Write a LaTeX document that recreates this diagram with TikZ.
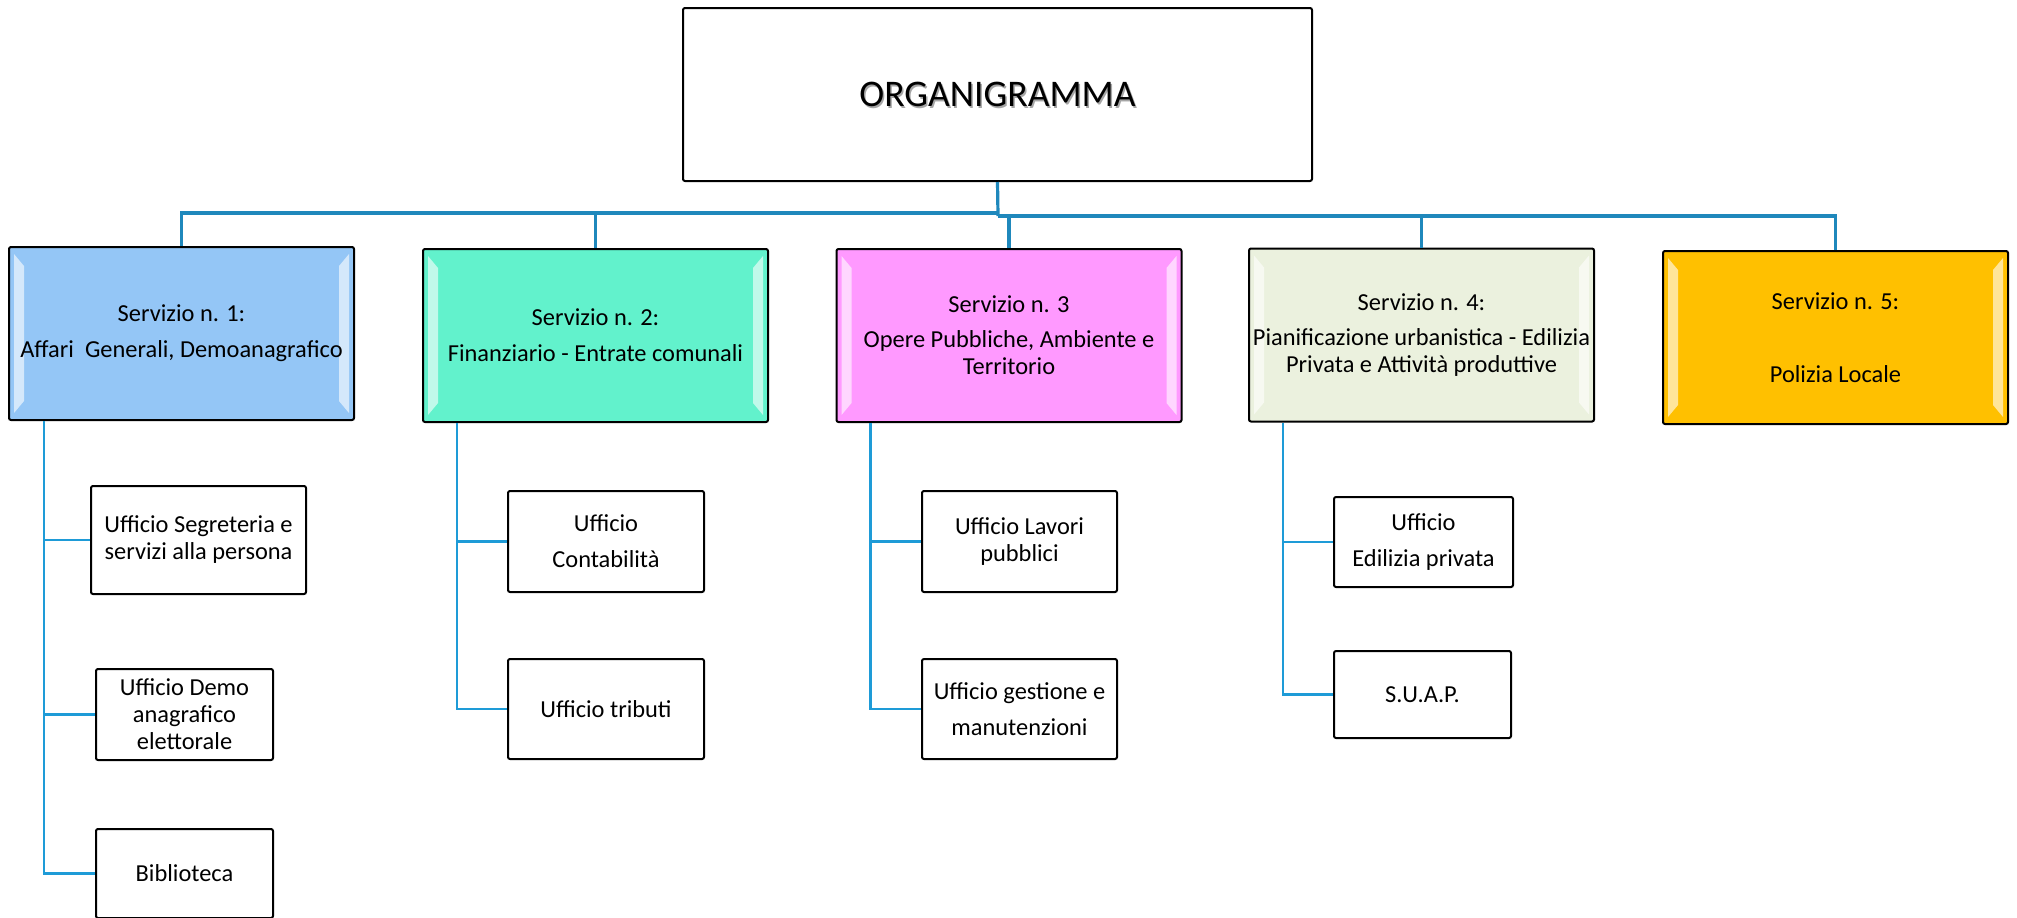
\documentclass[tikz,border=0pt]{standalone}
\usepackage{fontspec}
\setmainfont{Carlito}
\usetikzlibrary{calc}
\definecolor{busblue}{HTML}{1F88BC}
\definecolor{subblue}{HTML}{1E9BD7}
\definecolor{fillA}{HTML}{94C6F6}
\definecolor{fillB}{HTML}{62F2CC}
\definecolor{fillC}{HTML}{FF99FF}
\definecolor{fillD}{HTML}{EBF1DE}
\definecolor{fillE}{HTML}{FFC000}
\newcommand{\bevelsides}[1]{%
  \fill[bevelstrip] ($(#1.north west)+(6,8)$) -- ($(#1.north west)+(16,20)$) -- ($(#1.south west)+(16,-20)$) -- ($(#1.south west)+(6,-8)$) -- cycle;
  \fill[bevelstrip] ($(#1.north east)+(-6,8)$) -- ($(#1.north east)+(-16,20)$) -- ($(#1.south east)+(-16,-20)$) -- ($(#1.south east)+(-6,-8)$) -- cycle;
}
\begin{document}
\begin{tikzpicture}[x=0.5pt,y=-0.5pt,
  svc/.style={draw=black, line width=1pt, rounded corners=1pt, inner sep=0pt,
    minimum width=172.5pt, minimum height=86.5pt},
  svctext/.style={inner sep=0pt, align=center, font=\fontsize{12.2}{13.5}\selectfont},
  office/.style={draw=black, line width=1pt, rounded corners=1pt, inner sep=0pt, align=center,
    fill=white, font=\fontsize{12.2}{13.5}\selectfont},
  bus/.style={draw=busblue, line width=1.6pt},
  sub/.style={draw=subblue, line width=1.2pt},
  bevelstrip/.style={fill=white, fill opacity=0.6},
  title/.style={font=\fontsize{18.8}{20}\selectfont, inner sep=0pt}]
\useasboundingbox (0,0) rectangle (2017,917);

% top box
\node[draw=black, line width=1pt, rounded corners=1pt, inner sep=0pt,
      minimum width=314.5pt, minimum height=86.5pt] (top) at (997.5,94.5) {};
\node[title, text=black!35] (orgshadow) at ($(top.center)+(1.5,1.5)$) {ORGANIGRAMMA};
\node[title] (orgtext) at (top.center) {ORGANIGRAMMA};

% services
\node[svc, fill=fillA] (s1) at (181.5,333.5) {};
\node[svc, fill=fillB] (s2) at (595.5,335.5) {};
\node[svc, fill=fillC] (s3) at (1009,335.5) {};
\node[svc, fill=fillD] (s4) at (1421.5,335) {};
\node[svc, fill=fillE] (s5) at (1835.5,337.5) {};
\bevelsides{s1}
\bevelsides{s2}
\bevelsides{s3}
\bevelsides{s4}
\bevelsides{s5}
\node[svctext] (s1t) at (s1.center) {Servizio n. 1:\\[4.5pt]Affari\ \ Generali, Demoanagrafico};
\node[svctext] (s2t) at (s2.center) {Servizio n. 2:\\[4.5pt]Finanziario - Entrate comunali};
\node[svctext] (s3t) at (s3.center) {Servizio n. 3\\[4pt]Opere Pubbliche, Ambiente e\\Territorio};
\node[svctext] (s4t) at (s4.center) {Servizio n. 4:\\[4pt]Pianificazione urbanistica - Edilizia\\Privata e Attività produttive};
\node[svctext] (s5t) at (s5.center) {Servizio n. 5:\\[23pt]Polizia Locale};

% offices
\node[office, minimum width=107.5pt, minimum height=54pt] (c11) at (198.5,540) {Ufficio Segreteria e\\servizi alla persona};
\node[office, minimum width=88.5pt, minimum height=45.5pt] (c12) at (184.5,714.5) {Ufficio Demo\\anagrafico\\elettorale};
\node[office, minimum width=88.5pt, minimum height=44.5pt] (c13) at (184.5,873.5) {Biblioteca};
\node[office, minimum width=98pt, minimum height=50.5pt] (c21) at (606,541.5) {Ufficio\\[4.5pt]Contabilità};
\node[office, minimum width=98pt, minimum height=50pt] (c22) at (606,709) {Ufficio tributi};
\node[office, minimum width=97.5pt, minimum height=50.5pt] (c31) at (1019.5,541.5) {Ufficio Lavori\\pubblici};
\node[office, minimum width=97.5pt, minimum height=50pt] (c32) at (1019.5,709) {Ufficio gestione e\\[4.5pt]manutenzioni};
\node[office, minimum width=89.5pt, minimum height=45pt] (c41) at (1423.5,542) {Ufficio\\[4.5pt]Edilizia privata};
\node[office, minimum width=88.5pt, minimum height=43.5pt] (c42) at (1422.5,694.5) {S.U.A.P.};

% bus
\coordinate (jL) at (998,213);
\coordinate (jR) at (998,216);
\draw[bus] (top.south) -- (jR);
\draw[bus] (s1.north) |- (jL);
\draw[bus] (s2.north) |- (jL);
\draw[bus] (s3.north) |- (jR);
\draw[bus] (s4.north) |- (jR);
\draw[bus] (s5.north) |- (jR);

% sub connectors
\coordinate (v1) at ($(s1.south west)+(36,0)$);
\coordinate (v2) at ($(s2.south west)+(35,0)$);
\coordinate (v3) at ($(s3.south west)+(35,0)$);
\coordinate (v4) at ($(s4.south west)+(35,0)$);
\draw[sub] (v1) |- (c11.west);
\draw[sub] (v1) |- (c12.west);
\draw[sub] (v1) |- (c13.west);
\draw[sub] (v2) |- (c21.west);
\draw[sub] (v2) |- (c22.west);
\draw[sub] (v3) |- (c31.west);
\draw[sub] (v3) |- (c32.west);
\draw[sub] (v4) |- (c41.west);
\draw[sub] (v4) |- (c42.west);
\end{tikzpicture}
\end{document}
